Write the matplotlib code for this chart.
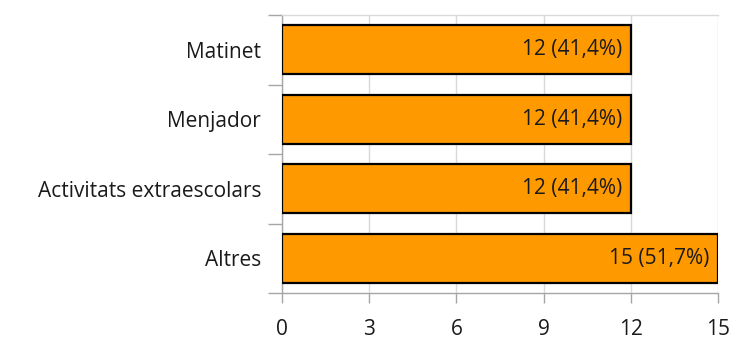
import matplotlib
matplotlib.use("Agg")
import matplotlib.pyplot as plt

# data (top to bottom as in the chart)
categories = ["Matinet", "Menjador", "Activitats extraescolars", "Altres"]
counts = [12, 12, 12, 15]
percents = ["41,4%", "41,4%", "41,4%", "51,7%"]
xticks = [0, 3, 6, 9, 12, 15]

plt.rcParams['font.family'] = ['Open Sans', 'DejaVu Sans']
text_col = '#1a1a1a'
grid_col = '#d9d9d9'
axis_col = '#a6a6a6'

fig = plt.figure(figsize=(7.31, 3.40), dpi=100)
ax = fig.add_axes([282 / 731, 47 / 340, 436 / 731, 278 / 340])

pos = list(range(len(categories)))[::-1]
ax.barh(pos, counts, height=0.7, color='#ff9900', edgecolor='black', linewidth=1.6, zorder=3)

for p, c, pc in zip(pos, counts, percents):
    ax.text(c - 0.3, p, f"{c} ({pc})", ha='right', va='center',
            fontsize=15, color=text_col, zorder=4)

ax.set_xlim(0, 15)
ax.set_ylim(-0.5, len(categories) - 0.5)
ax.set_xticks(xticks)
ax.set_xticklabels([str(t) for t in xticks], fontsize=15, color=text_col)

# category labels between boundary ticks
ax.set_yticks(pos)
ax.set_yticklabels(categories, fontsize=15, color=text_col)
ax.set_yticks([i - 0.5 for i in range(len(categories) + 1)], minor=True)
ax.tick_params(axis='y', which='major', length=0, pad=15)
ax.tick_params(axis='y', which='minor', length=10, color=axis_col, width=1)
ax.tick_params(axis='x', length=7, color=axis_col, width=1, pad=12)

ax.grid(axis='x', color=grid_col, linewidth=1, zorder=0)
ax.set_axisbelow(True)
for s in ['left', 'bottom']:
    ax.spines[s].set_color(axis_col)
    ax.spines[s].set_linewidth(1)
ax.spines['top'].set_color(grid_col)
ax.spines['top'].set_linewidth(1)
ax.spines['right'].set_visible(False)

fig.savefig("out.png", dpi=100)
